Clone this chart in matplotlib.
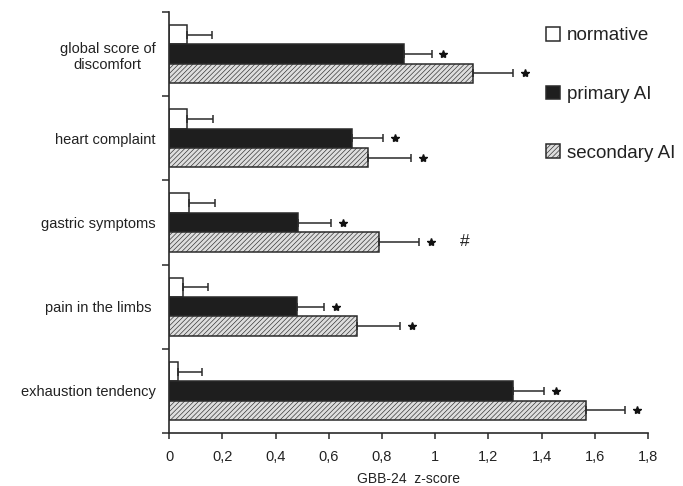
import matplotlib
matplotlib.use("Agg")
import matplotlib.pyplot as plt
import matplotlib.patches as mpatches
import numpy as np

plt.rcParams['font.family'] = ['Liberation Sans', 'DejaVu Sans']
plt.rcParams['hatch.color'] = '#9a9a9a'
plt.rcParams['hatch.linewidth'] = 0.45

categories = ["global score of\ndiscomfort", "heart complaint", "gastric symptoms",
              "pain in the limbs ", "exhaustion tendency"]
series_names = ["normative", "primary AI", "secondary AI"]
normative = [0.068, 0.068, 0.075, 0.053, 0.034]
normative_err = [0.091, 0.097, 0.097, 0.094, 0.088]
primary = [0.884, 0.688, 0.485, 0.480, 1.293]
primary_err = [0.102, 0.117, 0.123, 0.103, 0.117]
secondary = [1.143, 0.748, 0.789, 0.707, 1.567]
secondary_err = [0.150, 0.161, 0.151, 0.160, 0.146]
sig_primary = [True, True, True, True, True]
sig_secondary = [True, True, True, True, True]
hash_secondary = [False, False, True, False, False]
xticks = [0, 0.2, 0.4, 0.6, 0.8, 1.0, 1.2, 1.4, 1.6, 1.8]
xticklabels = ["0", "0,2", "0,4", "0,6", "0,8", "1", "1,2", "1,4", "1,6", "1,8"]
xlabel = "GBB-24  z-score"

fig = plt.figure(figsize=(6.83, 4.86), dpi=100)
ax = fig.add_axes([169.3/683, 1-433/486, (648-169.3)/683, (433-12)/486])

y = np.arange(len(categories))
h = 0.23
edge = '#2a2a2a'
ek = dict(ecolor=edge, elinewidth=1.1, capsize=3, capthick=1.1)

b1 = ax.barh(y - h, normative, height=h, color='white', edgecolor=edge, linewidth=1.1,
             xerr=[np.zeros(len(y)), normative_err], error_kw=ek)
b2 = ax.barh(y, primary, height=h, color='#1e1e1e', edgecolor=edge, linewidth=1.1,
             xerr=[np.zeros(len(y)), primary_err], error_kw=ek)
b3 = ax.barh(y + h, secondary, height=h, color='#dedede', edgecolor=edge, linewidth=1.1,
             hatch='///////', xerr=[np.zeros(len(y)), secondary_err], error_kw=ek)

off = 0.045
for i in range(len(y)):
    if sig_primary[i]:
        ax.plot(primary[i] + primary_err[i] + off, y[i], marker='*', color='#111111',
                markersize=6, linestyle='none', clip_on=False)
    if sig_secondary[i]:
        ax.plot(secondary[i] + secondary_err[i] + off, y[i] + h, marker='*', color='#111111',
                markersize=6, linestyle='none', clip_on=False)
    if hash_secondary[i]:
        ax.text(secondary[i] + secondary_err[i] + 0.17, y[i] + h, "#", fontsize=12.5,
                ha='center', va='center', color='#222222')

ax.set_xlim(0, 1.8)
ax.set_ylim(len(categories) - 0.5, -0.5)
ax.set_xticks(xticks)
ax.set_xticklabels(xticklabels, fontsize=10.5, color='#222222')
ax.set_xlabel(xlabel, fontsize=10, labelpad=6, color='#222222')

ax.set_yticks(np.arange(len(categories) + 1) - 0.5)
ax.set_yticklabels([])
ax.set_yticks(y, minor=True)
ax.set_yticklabels(categories, minor=True, fontsize=10.5, multialignment='center',
                   color='#222222')
ax.tick_params(axis='y', which='minor', length=0, pad=10)
ax.tick_params(axis='y', which='major', length=5, width=1.1, color=edge)
ax.tick_params(axis='x', length=4, width=1.1, color=edge, pad=8)

for s in ['top', 'right']:
    ax.spines[s].set_visible(False)
for s in ['left', 'bottom']:
    ax.spines[s].set_linewidth(1.2)
    ax.spines[s].set_color(edge)

handles = [mpatches.Patch(facecolor='white', edgecolor=edge, linewidth=1.1),
           mpatches.Patch(facecolor='#1e1e1e', edgecolor=edge, linewidth=1.1),
           mpatches.Patch(facecolor='#dedede', edgecolor=edge, linewidth=1.1, hatch='///////')]
fig.legend(handles, series_names, loc='upper left', bbox_to_anchor=(546/683, 1-27/486),
           frameon=False, fontsize=13.5, handlelength=0.75, handleheight=0.75,
           handletextpad=0.35, labelspacing=2.2, borderpad=0, borderaxespad=0,
           labelcolor='#222222')

fig.savefig("out.png", dpi=100)
